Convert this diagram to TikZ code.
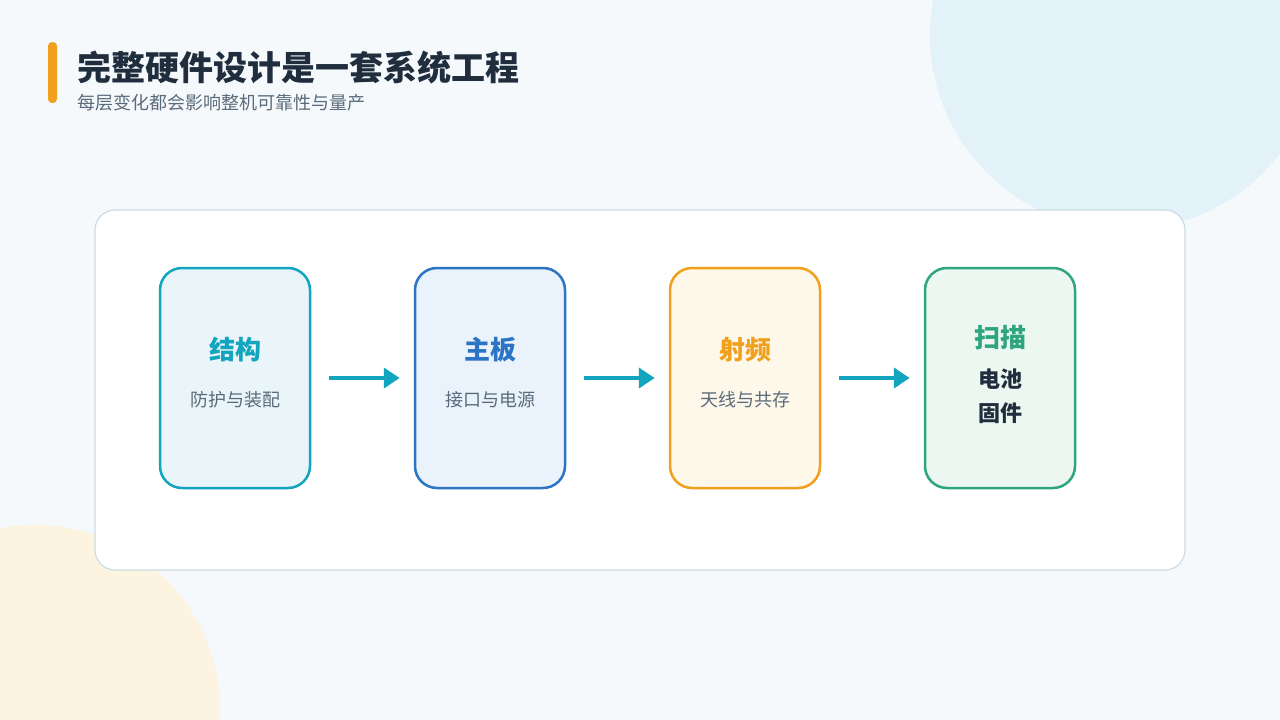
\documentclass[tikz,border=0pt]{standalone}
\usepackage{fontspec}
\setmainfont{Noto Sans CJK SC}
\usetikzlibrary{arrows.meta}
\definecolor{bg}{HTML}{F5F9FC}
\definecolor{cblue}{HTML}{E3F2F8}
\definecolor{corange}{HTML}{FCF3E0}
\definecolor{dark}{HTML}{1F2D3D}
\definecolor{gray1}{HTML}{5A6B7B}
\definecolor{panelb}{HTML}{CCDCE4}
\definecolor{c1}{HTML}{12A5C0}\definecolor{f1}{HTML}{EAF5F9}
\definecolor{c2}{HTML}{2C74C4}\definecolor{f2}{HTML}{EAF2FB}
\definecolor{c3}{HTML}{F0A01C}\definecolor{f3}{HTML}{FEF8EA}
\definecolor{c4}{HTML}{2EA57E}\definecolor{f4}{HTML}{EDF7F1}
\tikzset{
 box/.style={draw=#1,line width=2.5pt,rounded corners=22pt,minimum width=150pt,minimum height=220pt},
 ttl/.style={font=\fontsize{26}{30}\selectfont\bfseries,text=#1},
 sub/.style={font=\fontsize{18}{22}\selectfont,text=gray1},
 arr/.style={draw=c1,line width=4pt,-{Triangle[length=16pt,width=20pt]}}
}
\begin{document}
\begin{tikzpicture}[x=1pt,y=-1pt]
\useasboundingbox (0,0) rectangle (1280,720);
\fill[bg] (0,0) rectangle (1280,720);
\begin{scope}
\clip (0,0) rectangle (1280,720);
\fill[cblue] (1125,35) circle (195);
\fill[corange] (35,710) circle (185);
\end{scope}
\fill[c3,rounded corners=4pt] (48,42) rectangle (57,103);
\node[anchor=west,font=\fontsize{34}{38}\selectfont\bfseries,text=dark] (title) at (74,68) {完整硬件设计是一套系统工程};
\node[anchor=west,font=\fontsize{18}{22}\selectfont,text=gray1] (subt) at (74,103) {每层变化都会影响整机可靠性与量产};
\draw[panelb,fill=white,line width=1.2pt,rounded corners=20pt] (95,210) rectangle (1185,570);
\node[box=c1,fill=f1] (b1) at (235,378) {};
\node[box=c2,fill=f2] (b2) at (490,378) {};
\node[box=c3,fill=f3] (b3) at (745,378) {};
\node[box=c4,fill=f4] (b4) at (1000,378) {};
\node[ttl=c1] (t1) at (235,350) {结构};
\node[sub] (s1) at (235,400) {防护与装配};
\node[ttl=c2] (t2) at (490,350) {主板};
\node[sub] (s2) at (490,400) {接口与电源};
\node[ttl=c3] (t3) at (745,350) {射频};
\node[sub] (s3) at (745,400) {天线与共存};
\node[ttl=c4] (t4) at (1000,338) {扫描};
\node[font=\fontsize{22}{26}\selectfont\bfseries,text=dark] (s4a) at (1000,379) {电池};
\node[font=\fontsize{22}{26}\selectfont\bfseries,text=dark] (s4b) at (1000,413) {固件};
\draw[arr] ([xshift=18pt]b1.east) -- ([xshift=-14pt]b2.west);
\draw[arr] ([xshift=18pt]b2.east) -- ([xshift=-14pt]b3.west);
\draw[arr] ([xshift=18pt]b3.east) -- ([xshift=-14pt]b4.west);
\end{tikzpicture}
\end{document}
